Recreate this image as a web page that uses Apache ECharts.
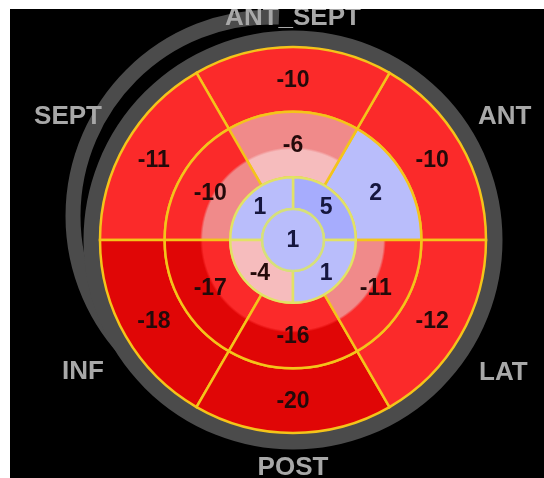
<!DOCTYPE html>
<html>
<head>
<meta charset="utf-8">
<script src="https://cdn.jsdelivr.net/npm/echarts/dist/echarts.min.js"></script>
<style>
  html, body { margin: 0; padding: 0; background: #ffffff; }
  #chart { position: absolute; left: 10px; top: 9px; width: 534px; height: 469px; }
</style>
</head>
<body>
<div id="chart"></div>
<script>
// Wall names, in counter-clockwise order starting at 0° (3 o'clock)
const walls = ['ANT', 'ANT_SEPT', 'SEPT', 'INF', 'POST', 'LAT'];

// Peak systolic strain (%) per segment, same angular order as the walls
const basalValues = [-10, -10, -11, -18, -20, -12];
const midValues = [2, -6, -10, -17, -16, -11];
// Apical quadrants: 0-90°, 90-180°, 180-270°, 270-360°
const apicalValues = [5, 1, -4, 1];
const apexValues = [1];

// Strain colour bands, from most negative to most positive
const DARK_RED = '#e00606', RED = '#fb2a2a', PINK = '#f08a8a', PALE_PINK = '#f6bcbd',
      LIGHT_BLUE = '#b9bdfb', BLUE = '#a6acfd';
// Next lighter band, used on the inner edge of the mid ring
const lighterBand = {};
lighterBand[DARK_RED] = RED;
lighterBand[RED] = PINK;
lighterBand[PINK] = PALE_PINK;

// Ring extents on the radius axis (0 = centre, 1 = outer edge)
const rings = [
  { values: basalValues, r: [0.665, 1.0], stroke: '#f4c41a', innerBand: 0 },
  { values: midValues, r: [0.325, 0.665], stroke: '#f4c41a', innerBand: 0.42 },
  { values: apicalValues, r: [0.16, 0.325], stroke: '#e2e266', innerBand: 0 },
  { values: apexValues, r: [0, 0.16], stroke: '#d6e07a', innerBand: 0 }
];

const segmentData = [];
rings.forEach(function (ring) {
  const span = 360 / ring.values.length;
  ring.values.forEach(function (v, i) {
    segmentData.push({
      value: [ring.r[0], ring.r[1], i * span, (i + 1) * span, v],
      stroke: ring.stroke,
      innerBand: ring.innerBand
    });
  });
});

const CENTER = [283, 231];

function renderSegment(params, api) {
  const cs = params.coordSys;
  const r0v = api.value(0), r1v = api.value(1);
  const a0 = api.value(2), a1 = api.value(3), v = api.value(4);
  const pxRadius = function (rv) {
    const p = api.coord([rv, 0]);
    return Math.hypot(p[0] - cs.cx, p[1] - cs.cy);
  };
  const r0 = pxRadius(r0v), r1 = pxRadius(r1v);
  const pStart = api.coord([r1v, a0]);
  const start = Math.atan2(pStart[1] - cs.cy, pStart[0] - cs.cx);
  const end = start - (a1 - a0) * Math.PI / 180;
  const labelPos = r0v === 0 ? api.coord([0, 0]) : api.coord([(r0v + r1v) / 2, (a0 + a1) / 2]);
  const item = segmentData[params.dataIndex];
  const color = api.visual('color');
  let fill = color;
  const inner = lighterBand[color];
  if (item.innerBand > 0 && inner) {
    // two-tone segment: lighter band along the inner edge
    const f0 = r0 / r1;
    const fm = f0 + (1 - f0) * item.innerBand;
    fill = new echarts.graphic.RadialGradient(cs.cx, cs.cy, r1, [
      { offset: 0, color: inner },
      { offset: fm, color: inner },
      { offset: fm + 0.02, color: color },
      { offset: 1, color: color }
    ], true);
  }
  return {
    type: 'group',
    children: [
      {
        type: 'sector',
        shape: {
          cx: cs.cx, cy: cs.cy, r0: r0, r: r1,
          startAngle: start, endAngle: end, clockwise: false
        },
        style: { fill: fill, stroke: item.stroke, lineWidth: 2.5 }
      },
      {
        type: 'text',
        x: labelPos[0],
        y: labelPos[1] + 1,
        z2: 10,
        style: {
          text: String(v),
          fill: v > 0 ? '#16163e' : '#240a0a',
          font: 'bold 23px "Liberation Sans", Arial, sans-serif',
          align: 'center',
          verticalAlign: 'middle'
        }
      }
    ]
  };
}

// Per-wall nudges for the outer labels
const wallLabelPadding = {
  ANT: [0, 0, 6, 4],
  ANT_SEPT: [0, 0, 0, 0],
  SEPT: [0, 10, 6, 0],
  INF: [14, 8, 0, 0],
  POST: [6, 0, 0, 0],
  LAT: [15, 0, 0, 5]
};

const chart = echarts.init(document.getElementById('chart'), null, { renderer: 'canvas' });
chart.setOption({
  backgroundColor: '#000000',
  animation: false,
  polar: [
    { center: CENTER, radius: 193 },
    { center: CENTER, radius: 201 }
  ],
  angleAxis: [
    { polarIndex: 0, type: 'value', min: 0, max: 360, startAngle: 0, clockwise: false, show: false },
    {
      polarIndex: 1, type: 'category', startAngle: 0, clockwise: false,
      data: walls.map(function (w) {
        return { value: w, textStyle: { padding: wallLabelPadding[w] } };
      }),
      boundaryGap: true,
      axisLine: { show: true, lineStyle: { color: '#4b4b4b', width: 17 } },
      axisTick: { show: false },
      splitLine: { show: false },
      axisLabel: {
        interval: 0, margin: 8, color: '#a8a8a8', fontSize: 26, fontWeight: 'bold',
        fontFamily: '"Liberation Sans", Arial, sans-serif'
      }
    }
  ],
  radiusAxis: [
    { polarIndex: 0, type: 'value', min: 0, max: 1, show: false },
    { polarIndex: 1, type: 'value', min: 0, max: 1, show: false }
  ],
  visualMap: {
    type: 'piecewise',
    show: false,
    seriesIndex: 0,
    dimension: 4,
    pieces: [
      { lte: -15, color: DARK_RED },
      { gt: -15, lte: -8, color: RED },
      { gt: -8, lte: -5, color: PINK },
      { gt: -5, lt: 0, color: PALE_PINK },
      { gte: 0, lt: 3, color: LIGHT_BLUE },
      { gte: 3, color: BLUE }
    ]
  },
  graphic: [
    {
      type: 'arc',
      z: -1,
      silent: true,
      shape: { cx: 262, cy: 207, r: 199, startAngle: 135 * Math.PI / 180, endAngle: 272 * Math.PI / 180, clockwise: true },
      style: { stroke: '#4b4b4b', lineWidth: 15, fill: null }
    }
  ],
  series: [
    {
      type: 'custom',
      coordinateSystem: 'polar',
      polarIndex: 0,
      renderItem: renderSegment,
      data: segmentData
    }
  ]
});
</script>
</body>
</html>
